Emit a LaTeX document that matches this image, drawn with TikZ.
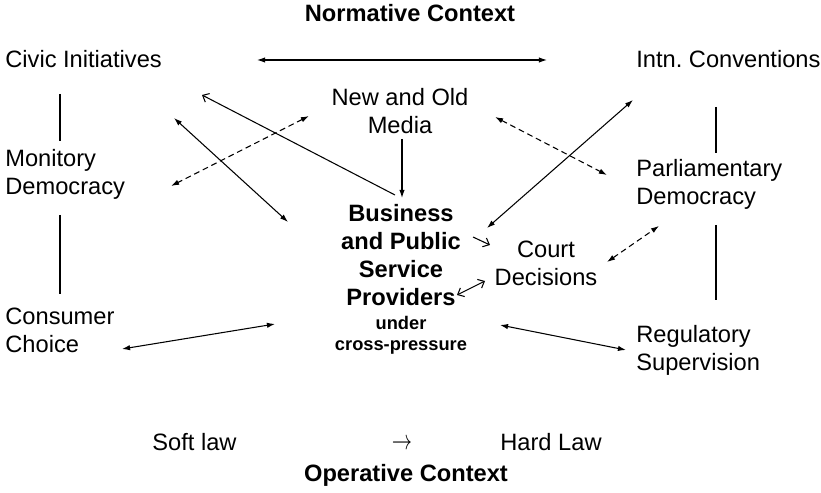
\documentclass[tikz,border=0pt]{standalone}
\usepackage{fontspec}
\setmainfont{Liberation Sans}
\usetikzlibrary{arrows.meta}
\begin{document}
\begin{tikzpicture}[x=0.52pt, y=-0.52pt]
\tikzstyle{txt} = [inner sep=0pt, align=left, anchor=base west, font=\fontsize{12.3}{14.7}\selectfont]
\tikzstyle{ctr} = [inner sep=0pt, align=center, anchor=base, font=\fontsize{12.3}{14.7}\selectfont]
\tikzstyle{bold} = [ctr, font=\fontsize{12.3}{14.7}\selectfont\bfseries]
\tikzstyle{small} = [ctr, font=\fontsize{9.5}{11.4}\selectfont\bfseries]
\tikzstyle{arrow} = [line width=0.55pt, -{Latex[length=4.2pt,width=2.8pt]}]
\tikzstyle{both} = [line width=0.55pt, {Latex[length=4.2pt,width=2.8pt]}-{Latex[length=4.2pt,width=2.8pt]}]
\tikzstyle{dashboth} = [both, dash pattern=on 3pt off 2pt]
\tikzstyle{openarrow} = [line width=0.55pt, -{Straight Barb[length=2.8pt,width=5pt]}]
\tikzstyle{openboth} = [line width=0.55pt, {Straight Barb[length=2.8pt,width=5pt]}-{Straight Barb[length=2.8pt,width=5pt]}]
\tikzstyle{link} = [line width=0.8pt]
\useasboundingbox (0,0) rectangle (821,493);
%
\node (0) [bold] at (410,22)  {Normative Context};
\node (1) [txt]  at (5,68)    {Civic Initiatives};
\node (2) [txt]  at (636,68)  {Intn.\ Conventions};
\node (3) [ctr]  at (400,134) {New and Old\\Media};
\node (4) [txt]  at (5,195)   {Monitory\\Democracy};
\node (5) [txt]  at (636,205) {Parliamentary\\Democracy};
\node (6) [bold] at (401,306) {Business\\and Public\\Service\\Providers};
\node (7) [small] at (401,351) {under\\cross-pressure};
\node (8) [ctr]  at (546,286) {Court\\Decisions};
\node (9) [txt]  at (5,353)   {Consumer\\Choice};
\node (10) [txt] at (636,371) {Regulatory\\Supervision};
\node (11) [txt] at (152,451) {Soft law};
\node (12) [ctr] at (402,450) {\fontsize{10}{12}\selectfont\scalebox{1.05}[1.45]{$\rightarrow$}};
\node (13) [txt] at (500,451) {Hard Law};
\node (14) [bold] at (406,482) {Operative Context};
%
\coordinate (a1) at (257,60);  \coordinate (a2) at (547,60);
\coordinate (b1) at (174,118); \coordinate (b2) at (288,222);
\coordinate (c1) at (395,195); \coordinate (c2) at (202,95);
\coordinate (d1) at (309,116); \coordinate (d2) at (171,186);
\coordinate (e1) at (402,139); \coordinate (e2) at (402,198);
\coordinate (f1) at (495,117); \coordinate (f2) at (607,175);
\coordinate (g1) at (487,228); \coordinate (g2) at (633,100);
\coordinate (h1) at (473,237); \coordinate (h2) at (490,245);
\coordinate (i1) at (457,295); \coordinate (i2) at (485,281);
\coordinate (j1) at (607,262); \coordinate (j2) at (659,226);
\coordinate (k1) at (122,349); \coordinate (k2) at (275,324);
\coordinate (l1) at (500,325); \coordinate (l2) at (626,350);
%
\draw [link] (60,94) -- (60,141);
\draw [link] (60,215) -- (60,294);
\draw [link, line width=0.6pt] (716,107) -- (716,153);
\draw [link, line width=0.6pt] (716,225) -- (716,300);
%
\draw [both] (a1) -- (a2);
\draw [both] (b1) -- (b2);
\draw [openarrow] (c1) -- (c2);
\draw [dashboth] (d1) -- (d2);
\draw [arrow] (e1) -- (e2);
\draw [dashboth] (f1) -- (f2);
\draw [both] (g1) -- (g2);
\draw [openarrow] (h1) -- (h2);
\draw [openboth] (i1) -- (i2);
\draw [dashboth] (j1) -- (j2);
\draw [both] (k1) -- (k2);
\draw [both] (l1) -- (l2);
\end{tikzpicture}
\end{document}
